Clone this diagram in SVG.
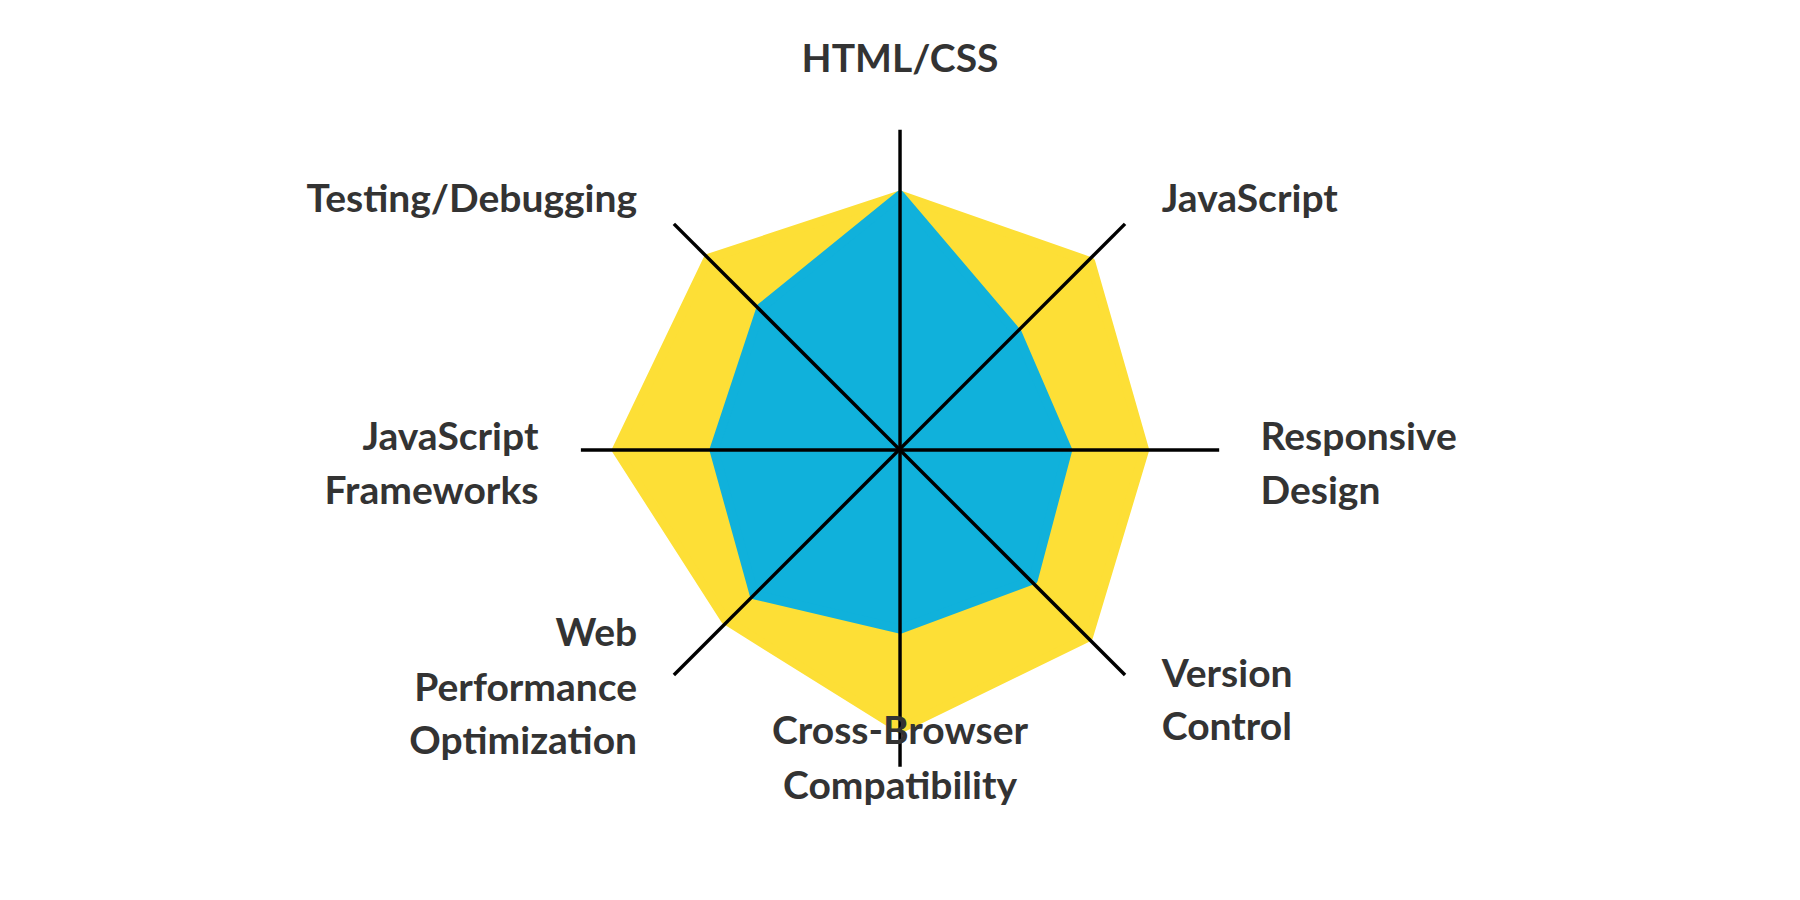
<svg xmlns="http://www.w3.org/2000/svg" width="1800" height="900" viewBox="0 0 1800 900">
<style>
text{font-family:Lato,"Noto Sans",sans-serif;font-weight:700;font-size:34px;fill:#333}
.ax{stroke:#000;stroke-width:3}
</style>
<rect width="1800" height="900" fill="#fff"/>
<g transform="scale(1.148)">
<g id="series-yellow"><polygon points="784,170 950,228 997,392 948,555 784,635 632,540 537,392 617,225" fill="#FDDF36" stroke="#FDDF36" stroke-width="8" stroke-linejoin="round"/></g>
<g id="series-blue"><polygon points="784,170 886,290 930,392 900,505 784,548 657,518 622,392 663,268" fill="#10B1DB" stroke="#10B1DB" stroke-width="8" stroke-linejoin="round"/></g>
<g id="connectors">
<line class="ax" x1="784" y1="113" x2="784" y2="668"/>
<line class="ax" x1="506" y1="392" x2="1062" y2="392"/>
<line class="ax" x1="587" y1="195" x2="980" y2="588"/>
<line class="ax" x1="980" y1="195" x2="587" y2="588"/>
</g>
<g id="labels">
<text x="784" y="63" text-anchor="middle">HTML/CSS</text>
<text x="555" y="185" text-anchor="end">Testing/Debugging</text>
<text x="1012" y="185">JavaScript</text>
<text x="1098" y="392">Responsive</text>
<text x="1098" y="439">Design</text>
<text x="469" y="392" text-anchor="end">JavaScript</text>
<text x="469" y="439" text-anchor="end">Frameworks</text>
<text x="555" y="563" text-anchor="end">Web</text>
<text x="555" y="611" text-anchor="end">Performance</text>
<text x="555" y="657" text-anchor="end">Optimization</text>
<text x="784" y="648" text-anchor="middle">Cross-Browser</text>
<text x="784" y="696" text-anchor="middle">Compatibility</text>
<text x="1012" y="598">Version</text>
<text x="1012" y="645">Control</text>
</g>
</g>
</svg>
